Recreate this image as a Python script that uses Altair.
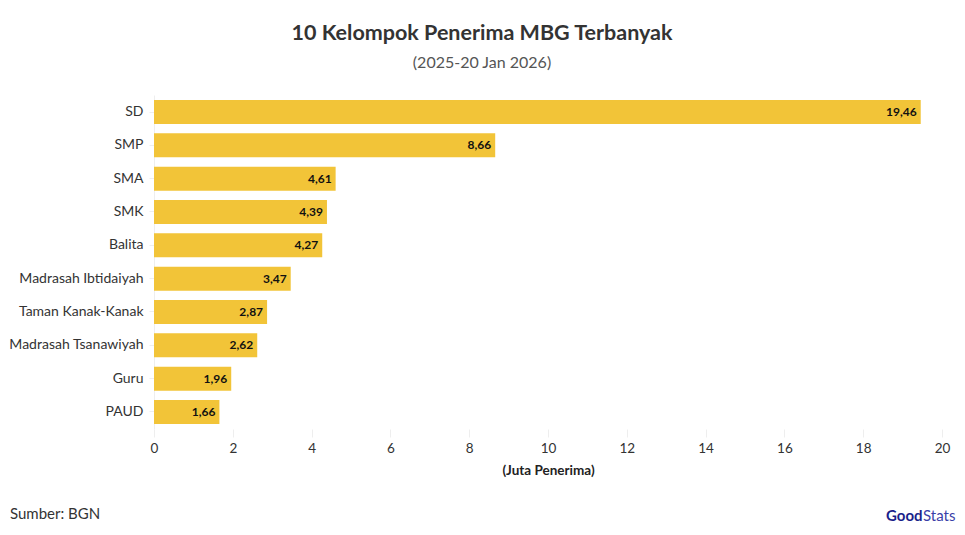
import altair as alt
import pandas as pd

categories = ["SD", "SMP", "SMA", "SMK", "Balita", "Madrasah Ibtidaiyah",
              "Taman Kanak-Kanak", "Madrasah Tsanawiyah", "Guru", "PAUD"]
values = [19.46, 8.66, 4.61, 4.39, 4.27, 3.47, 2.87, 2.62, 1.96, 1.66]
x_ticks = [0, 2, 4, 6, 8, 10, 12, 14, 16, 18, 20]

df = pd.DataFrame({
    "kelompok": categories,
    "nilai": values,
    "label": [f"{v:.2f}".replace(".", ",") for v in values],
})

FONT = "Lato"
BAR = "#F2C438"

base = alt.Chart(df)

bars = base.mark_bar(color=BAR).encode(
    y=alt.Y("kelompok:N", sort=None,
            scale=alt.Scale(paddingInner=0.28, paddingOuter=0.15),
            axis=alt.Axis(title=None, labelFont=FONT, labelFontSize=14,
                          labelColor="#333333", domainColor="#eeeeee",
                          tickColor="#eeeeee", labelPadding=6)),
    x=alt.X("nilai:Q", scale=alt.Scale(domain=[0, 20], nice=False),
            axis=alt.Axis(values=x_ticks, title="(Juta Penerima)", grid=False,
                          labelFont=FONT, labelFontSize=13.5, labelColor="#333333",
                          labelFlush=False,
                          titleFont=FONT, titleFontSize=13.5, titleFontWeight="bold",
                          titleColor="#222222", titlePadding=9,
                          domain=False, tickColor="#eeeeee", tickSize=8,
                          labelPadding=4)),
)

labels = base.mark_text(align="right", baseline="middle", dx=-4,
                        font=FONT, fontSize=12, fontWeight="bold",
                        color="#111111").encode(
    y=alt.Y("kelompok:N", sort=None),
    x=alt.X("nilai:Q"),
    text="label:N",
)

source = alt.Chart(pd.DataFrame({"t": ["Sumber: BGN"]})).mark_text(
    align="left", baseline="middle", font=FONT, fontSize=15, color="#333333"
).encode(x=alt.value(-144), y=alt.value(419), text="t:N")

logo_good = alt.Chart(pd.DataFrame({"t": ["Good"]})).mark_text(
    align="left", baseline="middle", font=FONT, fontSize=15, fontWeight="bold",
    color="#1B1F8A"
).encode(x=alt.value(732), y=alt.value(421), text="t:N")

logo_stats = alt.Chart(pd.DataFrame({"t": ["Stats"]})).mark_text(
    align="left", baseline="middle", font=FONT, fontSize=15, fontWeight="normal",
    color="#3A3FA8"
).encode(x=alt.value(769), y=alt.value(421), text="t:N")

chart = alt.layer(bars, labels, source, logo_good, logo_stats).properties(
    width=788, height=334,
    autosize=alt.AutoSizeParams(type="none"),
    padding={"left": 146, "top": 87, "right": 15, "bottom": 100},
    view=alt.ViewBackground(stroke="transparent", strokeWidth=0),
    title=alt.Title(
        "10 Kelompok Penerima MBG Terbanyak",
        subtitle="(2025-20 Jan 2026)",
        anchor="middle", dx=-66, offset=24,
        font=FONT, fontSize=21.5, fontWeight="bold", color="#333333",
        subtitleFont=FONT, subtitleFontSize=16, subtitleColor="#555555",
        subtitlePadding=11,
    ),
).configure_view(stroke="transparent", strokeWidth=0).configure(background="white")

chart.save("out.html", embed_options={"renderer": "svg", "actions": False})
